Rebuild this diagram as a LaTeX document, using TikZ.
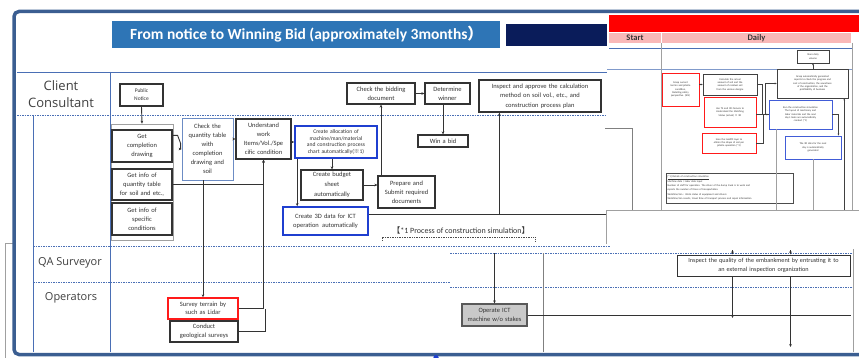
\documentclass[tikz,border=0pt]{standalone}
\usepackage{fontspec}
\setmainfont{Carlito}
\newfontfamily\lanefont{Open Sans}
\newfontfamily\cjkfont{Noto Sans CJK JP}
\usetikzlibrary{calc,arrows.meta}

\definecolor{framec}{HTML}{3B5E91}
\definecolor{bannerc}{HTML}{2E75B6}
\definecolor{navyc}{HTML}{0A1C5A}
\definecolor{lanec}{HTML}{4A6FB5}
\definecolor{boxblue}{HTML}{1F3FD0}
\definecolor{chkblue}{HTML}{6C8CC4}
\definecolor{boxred}{HTML}{FF1A1A}
\definecolor{pinkc}{HTML}{F9B8B8}
\definecolor{gridc}{HTML}{A0A0A0}
\definecolor{opfill}{HTML}{C9C9C9}
\definecolor{inkc}{HTML}{333333}

% box from its corners: name, x1, y1, x2, y2, style, text
\newcommand\bx[7]{%
  \pgfmathsetmacro\bxw{#4-#2}\pgfmathsetmacro\bxh{#5-#3}%
  \pgfmathsetmacro\bxt{#4-#2-3}%
  \pgfmathsetmacro\bxcx{(#2+#4)/2}\pgfmathsetmacro\bxcy{(#3+#5)/2}%
  \node[#6, minimum width=\bxw pt, minimum height=\bxh pt, text width=\bxt pt] (#1) at (\bxcx,\bxcy) {#7};}

\tikzset{
  box/.style={draw=inkc, line width=1.2pt, align=center, inner sep=0.5pt, text=inkc,
    font=\fontsize{6.5}{9}\selectfont},
  bluebox/.style={box, draw=boxblue, line width=1.6pt},
  redbox/.style={box, draw=boxred, line width=1.4pt},
  thinblue/.style={box, draw=chkblue, line width=0.9pt},
  grpbox/.style={draw=gridc, line width=0.7pt, inner sep=0},
  opbox/.style={box, fill=opfill, draw=black!65},
  arr/.style={-{Stealth[length=3pt,width=2.6pt]}, line width=0.9pt, draw=inkc},
  plain/.style={line width=0.9pt, draw=inkc},
  lane/.style={lanec, line width=0.9pt, dash pattern=on 1.6pt off 0.9pt},
  lanesolid/.style={lanec, line width=0.9pt},
  lanelbl/.style={font=\lanefont\fontsize{11}{15}\selectfont, text=black!75, align=center},
  sbox/.style={draw=black!75, line width=0.6pt, align=center, inner sep=0.3pt, text=inkc,
    font=\fontsize{2.6}{3.3}\selectfont},
  sred/.style={sbox, draw=boxred, line width=0.9pt},
  sblue/.style={sbox, draw=boxblue!85, line width=0.9pt},
  cell/.style={fill=pinkc, inner sep=0, align=center, text=black!80,
    font=\bfseries\fontsize{8.5}{9}\selectfont},
  sarr/.style={-{Stealth[length=2pt,width=1.8pt]}, line width=0.5pt, draw=black!75},
  sline/.style={line width=0.5pt, draw=black!75},
  grid/.style={gridc, line width=0.6pt},
}

\begin{document}
\begin{tikzpicture}[x=1pt,y=-1pt]
\useasboundingbox[fill=white] (0,0) rectangle (859,358);

% thin guide at the far left
\draw[grid] (13,243) -- (5,243) -- (5,358);

% ---------- header ----------
\node[fill=bannerc, minimum width=388pt, minimum height=27pt, anchor=north west, inner sep=0] (banner) at (112,21) {};
\node[text=white, font=\bfseries\fontsize{15.5}{17}\selectfont, anchor=west, inner sep=0] (title) at (130,34.5)
  {From notice to Winning Bid (approximately 3months{\cjkfont ）}};
\node[fill=navyc, minimum width=101pt, minimum height=22pt, anchor=north west, inner sep=0] (navy) at (506,24) {};

% ---------- swim lanes ----------
\draw[lanesolid] (17,72) -- (607,72);
\draw[lanesolid] (110,72) -- (110,352);
\draw[lanesolid] (33,115) -- (33,352);
\draw[lane] (17,115) -- (607,115);
\draw[lane] (33,246) -- (610,246);
\draw[lane] (33,282) -- (450,282);

\node[lanelbl, font=\lanefont\fontsize{13}{17}\selectfont] (lclient) at (61,94) {Client\\Consultant};
\node[lanelbl] (lqa) at (70,263) {QA Surveyor};
\node[lanelbl] (lop) at (71,298) {Operators};

% ---------- client / consultant boxes ----------
\bx{pub}{120}{84}{163}{106}{box, font=\fontsize{5.5}{8}\selectfont}{Public\\Notice}
\bx{grp}{111}{124}{173}{240}{grpbox}{}
\bx{gcd}{112}{130}{172}{162}{box}{Get\\completion\\drawing}
\bx{giq}{112}{169}{172}{200}{box}{Get info of\\quantity table\\for soil and etc.,}
\bx{gis}{112}{203}{172}{235}{box}{Get info of\\specific\\conditions}
\bx{chk}{182}{118}{233}{180}{thinblue}{Check the\\quantity table\\with\\completion\\drawing and\\soil}
\bx{und}{236}{119}{291}{159}{box}{Understand\\work\\Items/Vol./Spe\\cific condition}
\bx{alc}{295}{126}{377}{158}{bluebox, font=\fontsize{5.6}{6.9}\selectfont}{Create allocation of\\machine/man/material\\and construction process\\chart automatically({\cjkfont ※}1)}
\bx{bud}{301}{170}{363}{200}{box, font=\fontsize{6.5}{10}\selectfont}{Create budget\\sheet\\automatically}
\bx{prp}{378}{176}{435}{208}{box}{Prepare and\\Submit required\\documents}
\bx{d3d}{283}{207}{368}{235}{bluebox}{Create 3D data for ICT\\operation\enspace automatically}
\bx{cbd}{347}{83}{415}{104}{box}{Check the bidding\\document}
\bx{det}{425}{83}{470}{104}{box}{Determine\\winner}
\bx{win}{418}{135}{468}{147}{box}{Win a bid}
\bx{iap}{479}{80}{601}{112}{box, font=\fontsize{6.5}{9.5}\selectfont}{Inspect and approve the calculation\\method on soil vol., etc., and\\construction process plan}

% ---------- operators boxes ----------
\bx{sur}{168}{298}{238}{319}{redbox, font=\fontsize{6.5}{8.5}\selectfont}{Survey terrain by\\such as Lidar}
\bx{geo}{170}{321}{238}{342}{box, font=\fontsize{6.5}{8.5}\selectfont}{Conduct\\geological surveys}

% simulation label with its bracket
\node[font=\fontsize{8}{9}\selectfont, text=inkc, inner sep=0] (simlbl) at (461,230)
  {{\cjkfont 【}*1 Process of construction simulation{\cjkfont 】}};
\draw[black!70, line width=0.8pt, dash pattern=on 1pt off 0.7pt]
  ($(simlbl.south west)+(-10,7)$) -- ++(0,-4) -- ($(simlbl.south east)+(6,3)$) -- ++(0,4);

% ---------- connectors ----------
\draw[arr] (pub.south) -- (grp.north);
\draw[arr] ($(gcd.north east)+(0,6)$) -- ++(5,0) -- ++(3,8) |- (chk.west);
\draw[arr] (giq.east) -| (und.south);
\draw[arr] (chk.east |- und.west) -- (und.west);
\draw[arr] (und.east |- alc.west) -- (alc.west);
\draw[arr] (sur.north |- chk.south) -- (sur.north);
\draw[arr] (sur.east) -| (und.south);
\draw[plain] (geo.east) -| ($(sur.east -| und.south)+(2,0)$);
\draw[arr] (bud.north |- alc.south) -- (bud.north);
\draw[arr] (bud.east) -- (prp.west |- bud.east);
\draw[arr] (cbd.south |- prp.north) -- (cbd.south);
\draw[arr] (cbd.east) -- (det.west);
\draw[arr] (win.north |- det.south) -- (win.north);
\coordinate (a1) at ($(alc.south west)+(3,0)$);
\draw[arr] (a1) -- (a1 |- d3d.north);
\coordinate (d3e) at ($(d3d.north east)+(0,8)$);
\coordinate (simEnd) at ($(d3e -| iap.east)+(6,0)$);
\draw[plain] (d3e) -- (simEnd);
\coordinate (iapIn) at ($(iap.south west)+(21,0)$);
\draw[arr] (iapIn |- d3e) -- (iapIn);

% ---------- daily sheet (right upper panel) ----------
\fill[white] (607,14) rectangle (859,210);
\fill[red] (609,15) rectangle (859,32);
\bx{startc}{609}{33}{661}{43}{cell}{Start}
\bx{dailyc}{662}{33}{851}{43}{cell}{Daily}
\draw[lanesolid, line width=0.7pt] (609,48) -- (852,48);
\draw[lanesolid, lanec!70, line width=0.7pt] (607,69) -- (852,69);
\draw[grid] (661,43) -- (661,210);
\draw[grid] (852,43) -- (852,210);
\draw[grid, line width=0.9pt, gray] (605,128) -- (632,128) -- (632,210);

\bx{s1}{797}{50}{829}{63}{sbox}{Store daily\\volume}
\bx{s2}{662}{73}{699}{106}{sred}{Grasp current\\terrain and jobsite\\condition,\\Detailing safety\\perspective. (KSI)}
\bx{s3}{703}{74}{757}{95}{sbox}{Calculate the actual\\amount of soil and the\\amount of residual soil\\from the various designs}
\bx{s4}{704}{97}{756}{127}{sred}{Use TS and 3D Camera to\\Understand the Matching\\Status (actual) {\cjkfont ※} 3D}
\bx{s5}{777}{69}{848}{98}{sbox}{Grasp automatically generated\\reports to check the progress and\\cost of construction, the soundness\\of the organization, and the\\profitability of business}
\bx{s6}{769}{100}{832}{129}{sblue}{Run the construction simulation\\The layout of machinery and\\labor materials and the next\\day's tasks are automatically\\created (*1)}
\bx{s7}{702}{133}{756}{153}{sred}{Scan the landfill layer to\\obtain the shape of soil per\\jobsite operation (*2)}
\bx{s8}{785}{136}{841}{159}{sblue}{The 3D data for the next\\day is automatically\\generated}
\bx{s9}{666}{173}{793}{203}{sbox, draw=black!70, line width=0.9pt, align=left, font=\fontsize{2.6}{4.4}\selectfont}
  {\underline{[*1] Details of construction simulation}\\
   Machine data / labor data input\\
   Number of staff for operation. The driver of the dump truck is to work and\\
   reports the number of times of transportation.\\
   Worktime/ton : Work status of equipment and drivers\\
   Worktime/ton results, travel time of transport process and repair information}

\draw[sarr] (s2.east |- s3.west) -- (s3.west);
\draw[sline] (s3.east) -- ++(5,0) |- (s6.west);
\draw[sarr] (s4.east |- s6.west) -- (s6.west);
\draw[sline] (s7.east) -- ++(7,0) |- (s6.west);
\draw[sarr] ($(s6.west)+(-3,0)$) |- (s5.west);
\coordinate (c8) at ($(s8.north east)+(-3,0)$);
\draw[sarr] (s6.east) -| (c8);
\draw[sarr] (s1.south |- s5.north) -- (s1.south);
\coordinate (sheetBot) at (859,210);
\coordinate (c5) at ($(s5.south east)+(-4,0)$);
\draw[sarr] (c5 |- sheetBot) -- (c5);
\coordinate (c6) at ($(s6.south west)+(8,0)$);
\draw[grid, line width=0.7pt] (c6) -- (c6 |- sheetBot);
\draw[grid, line width=0.7pt] (s8.south) -- (s8.south |- sheetBot);

% blank sheet below
\filldraw[fill=white, draw=gridc, line width=0.6pt] (606,244) -- (606,210) -- (870,210) -- (870,244);

% ---------- lower right panel ----------
\fill[white] (450,249) rectangle (859,352);
\draw[lane] (450,253) -- (853,253);
\draw[lane] (450,287) -- (853,287);
\draw[grid] (853,249) -- (853,352);
\coordinate (lowTop) at (450,253);
\coordinate (lowBot) at (450,352);

\bx{opr}{462}{304}{527}{326}{opbox, font=\fontsize{6.5}{9}\selectfont}{Operate ICT\\machine w/o stakes}
\bx{iqe}{677}{255}{850}{276}{box, line width=1pt, font=\fontsize{6.2}{9}\selectfont}{Inspect the quality of the embankment by entrusting it to\\an external inspection organization}

\draw[arr] (opr.north |- lowTop) -- (opr.north);
\coordinate (v1) at (543,253);
\draw[grid, line width=0.8pt, gray] (v1) -- (v1 |- lowBot);
\draw[plain, line width=0.8pt] (opr.east) -- (opr.east -| iqe.east);
\coordinate (q1) at ($(iqe.south west)+(56,0)$);
\coordinate (q2) at ($(iqe.south west)+(114,0)$);
\draw[arr] (q1) -- ($(q1 |- opr.east)+(0,3)$);
\draw[arr] (q2) -- ($(q2 |- lowBot)+(0,-5)$);
\draw[arr, line width=0.7pt] ($(q1 |- lowTop)+(0,-3)$) -- (q1 |- iqe.north);
\draw[arr, line width=0.7pt] ($(q2 |- lowTop)+(0,-3)$) -- (q2 |- iqe.north);

% ---------- outer frame ----------
\draw[framec, line width=3.5pt, rounded corners=5pt] (870,11.5) -- (14,11.5) -- (14,354.5) -- (870,354.5);
\fill[boxblue] (436,357.5) circle (2.6);
\end{tikzpicture}
\end{document}
